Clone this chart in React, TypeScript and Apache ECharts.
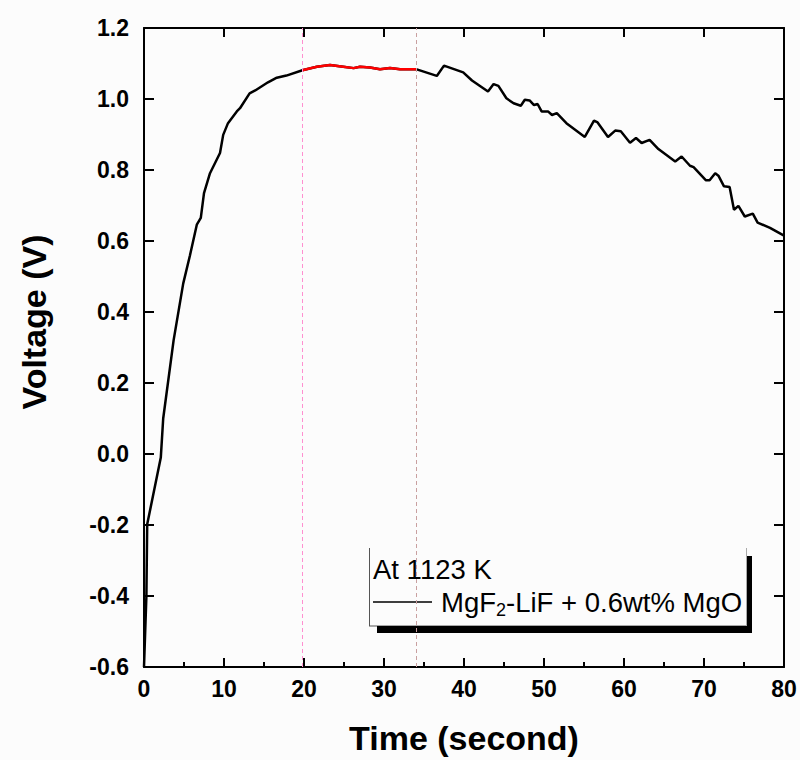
import React, { useEffect, useRef } from 'react';
import * as echarts from 'echarts';

const timeS = [
  0, 0.3, 0.4, 2.1, 2.4, 3.7, 4.9, 5.75, 6.6, 7.1, 7.5, 8.25, 9.5, 9.9, 10.5, 11.6, 12.0, 13.2, 13.9, 15.5,
  16.6, 17.8, 19.8, 21.6, 23.25, 24.9, 26.2, 27.0, 28.25, 29.5, 30.75, 32.0, 34.0, 36.6, 37.5, 39.9, 41.0,
  43.0, 43.7, 44.3, 45.3, 46.2, 47.1, 47.6, 48.2, 48.75, 49.2, 49.7, 50.5, 51.0, 51.6, 52.8, 55.1, 56.25,
  56.7, 58.0, 58.9, 59.6, 60.75, 61.5, 62.2, 63.2, 64.3, 66.4, 67.2, 68.25, 68.7, 70.25, 70.7, 71.4, 71.8,
  72.5, 73.2, 73.75, 74.3, 75.1, 76.1, 76.7, 78.25, 80,
];
const voltageV = [
  -0.6, -0.4, -0.198, -0.01, 0.1, 0.32, 0.48, 0.56, 0.646, 0.665, 0.735, 0.791, 0.848, 0.899, 0.932, 0.965,
  0.974, 1.016, 1.024, 1.047, 1.06, 1.066, 1.081, 1.091, 1.096, 1.091, 1.087, 1.091, 1.089, 1.084, 1.087,
  1.084, 1.084, 1.065, 1.094, 1.075, 1.052, 1.021, 1.042, 1.037, 1.002, 0.988, 0.981, 0.998, 0.996, 0.983,
  0.986, 0.965, 0.965, 0.955, 0.96, 0.932, 0.893, 0.939, 0.934, 0.893, 0.911, 0.909, 0.877, 0.89, 0.876,
  0.885, 0.859, 0.824, 0.838, 0.812, 0.808, 0.771, 0.771, 0.791, 0.784, 0.754, 0.752, 0.688, 0.699, 0.669,
  0.677, 0.652, 0.637, 0.615,
];
const plateauStart = 19.8;
const plateauEnd = 34;
const xRange = [0, 80];
const yRange = [-0.6, 1.2];

const FONT = '"Liberation Sans", Arial, sans-serif';

export default function App() {
  const ref = useRef<HTMLDivElement>(null);
  useEffect(() => {
    if (!ref.current) return;
    const chart = echarts.init(ref.current, undefined, { renderer: 'svg' });
    const all = timeS.map((t, i) => [t, voltageV[i]]);
    const plateau = all.filter((p) => p[0] >= plateauStart && p[0] <= plateauEnd);
    const axisLine = { show: true, onZero: false, lineStyle: { color: '#000', width: 2 } };
    chart.setOption({
      animation: false,
      backgroundColor: '#fcfcfc',
      grid: { left: 144, right: 16, top: 28, bottom: 92 },
      xAxis: [
        {
          type: 'value', min: xRange[0], max: xRange[1], interval: 10, position: 'bottom',
          name: 'Time (second)', nameLocation: 'middle', nameGap: 54,
          nameTextStyle: { fontFamily: FONT, fontWeight: 'bold', fontSize: 34, color: '#000' },
          axisLine,
          axisTick: { show: true, inside: true, length: 9, lineStyle: { color: '#000', width: 2 } },
          minorTick: { show: true, splitNumber: 2, length: 5, lineStyle: { color: '#000', width: 2 } },
          axisLabel: { fontFamily: FONT, fontWeight: 'bold', fontSize: 23, color: '#000', margin: 10 },
          splitLine: { show: false },
        },
        {
          type: 'value', min: xRange[0], max: xRange[1], interval: 10, position: 'top',
          axisLine,
          axisTick: { show: true, inside: true, length: 9, lineStyle: { color: '#000', width: 2 } },
          axisLabel: { show: false },
          splitLine: { show: false },
        },
      ],
      yAxis: [
        {
          type: 'value', min: yRange[0], max: yRange[1], interval: 0.2, position: 'left',
          axisLine,
          axisTick: { show: true, inside: true, length: 10, lineStyle: { color: '#000', width: 2 } },
          axisLabel: {
            fontFamily: FONT, fontWeight: 'bold', fontSize: 23, color: '#000', margin: 15,
            formatter: (v: number) => v.toFixed(1),
          },
          splitLine: { show: false },
        },
        {
          type: 'value', min: yRange[0], max: yRange[1], interval: 0.2, position: 'right',
          axisLine,
          axisTick: { show: true, inside: true, length: 10, lineStyle: { color: '#000', width: 2 } },
          axisLabel: { show: false },
          splitLine: { show: false },
        },
      ],
      series: [
        {
          type: 'line', data: all, showSymbol: false, symbol: 'none',
          lineStyle: { color: '#000', width: 2.5 }, z: 3,
          markLine: {
            silent: true, symbol: 'none', label: { show: false },
            data: [
              { xAxis: plateauStart, lineStyle: { color: '#ff8fd0', type: [4, 3], width: 1 } },
              { xAxis: plateauEnd, lineStyle: { color: '#c9a0a0', type: [4, 3], width: 1 } },
            ],
          },
        },
        {
          type: 'line', data: plateau, showSymbol: false, symbol: 'none',
          lineStyle: { color: '#ff0000', width: 2.5 }, z: 4,
        },
      ],
      graphic: [
        {
          type: 'text', x: 34, y: 322, rotation: Math.PI / 2,
          style: {
            text: 'Voltage (V)', font: `bold 34px ${FONT}`, fill: '#000',
            textAlign: 'center', textVerticalAlign: 'middle',
          },
        },
        { type: 'line', shape: { x1: 369.5, y1: 548, x2: 369.5, y2: 626 }, style: { stroke: '#555', lineWidth: 1 } },
        { type: 'line', shape: { x1: 369, y1: 626, x2: 747, y2: 626 }, style: { stroke: '#555', lineWidth: 1 } },
        { type: 'line', shape: { x1: 746.5, y1: 548, x2: 746.5, y2: 626 }, style: { stroke: '#aaa', lineWidth: 1 } },
        { type: 'rect', shape: { x: 377, y: 626, width: 375, height: 7 }, style: { fill: '#000' } },
        { type: 'rect', shape: { x: 747, y: 556, width: 5, height: 77 }, style: { fill: '#000' } },
        {
          type: 'text', x: 373, y: 569,
          style: { text: 'At 1123 K', font: `27.5px ${FONT}`, fill: '#000', textVerticalAlign: 'middle' },
        },
        { type: 'line', shape: { x1: 373, y1: 602, x2: 432, y2: 602 }, style: { stroke: '#000', lineWidth: 1.5 } },
        {
          type: 'text', x: 441, y: 602,
          style: {
            text: '{a|MgF}{s|2}{a|-LiF + 0.6wt% MgO}',
            fill: '#000', textVerticalAlign: 'middle',
            rich: {
              a: { fontFamily: FONT, fontSize: 27.5, fill: '#000' },
              s: { fontFamily: FONT, fontSize: 18, fill: '#000', padding: [15, 0, 0, 0] },
            },
          },
        },
      ],
    });
    return () => chart.dispose();
  }, []);
  return <div ref={ref} style={{ position: 'absolute', left: 0, top: 0, width: 800, height: 760 }} />;
}
